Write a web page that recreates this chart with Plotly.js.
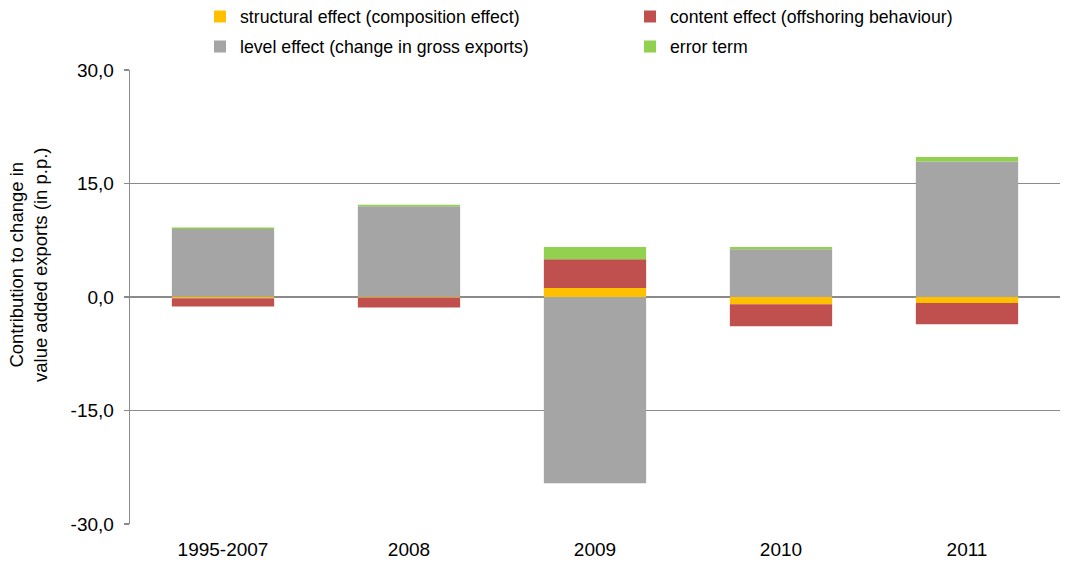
<!DOCTYPE html>
<html>
<head>
<meta charset="utf-8">
<script src="https://cdn.plot.ly/plotly-3.0.1.min.js"></script>
<style>html,body{margin:0;padding:0;background:#fff;}#chart{width:1065px;height:563px;}</style>
</head>
<body>
<div id="chart"></div>
<script>
var categories = ["1995-2007", "2008", "2009", "2010", "2011"];
var structuralEffect = [-0.15, -0.1, 1.2, -0.95, -0.8];
var contentEffect = [-1.1, -1.3, 3.8, -2.9, -2.8];
var levelEffect = [9.0, 12.0, -24.6, 6.3, 17.9];
var errorTerm = [0.2, 0.2, 1.6, 0.3, 0.6];
var seriesNames = ["structural effect (composition effect)", "content effect (offshoring behaviour)", "level effect (change in gross exports)", "error term"];
var seriesColors = ["#FFC000", "#C0504D", "#A5A5A5", "#92D050"];
var yTickVals = [-30, -15, 0, 15, 30];
var yTickText = ["-30,0", "-15,0", "0,0", "15,0", "30,0"];
var yTitle = "Contribution to change in<br>value added exports (in p.p.)";

var FONT = "Liberation Sans, Arial, sans-serif";
var seriesValues = [structuralEffect, contentEffect, levelEffect, errorTerm];
var legendIds = ["legend", "legend2", "legend3", "legend4"];
var traces = seriesValues.map(function (vals, i) {
  return {
    type: "bar",
    x: categories,
    y: vals,
    name: seriesNames[i],
    legend: legendIds[i],
    marker: { color: seriesColors[i], line: { width: 0 } },
    width: 0.55,
    hoverinfo: "x+y+name"
  };
});

var plotL = 130, plotW = 930, plotT = 70, plotH = 454;
function legendAt(px, py) {
  return {
    orientation: "v",
    x: (px - plotL) / plotW,
    xanchor: "left",
    y: 1 + (plotT - py) / plotH,
    yanchor: "middle",
    itemwidth: 30,
    font: { family: FONT, size: 17.7, color: "#000000" },
    bgcolor: "rgba(0,0,0,0)"
  };
}

var layout = {
  width: 1065,
  height: 563,
  barmode: "relative",
  margin: { l: plotL, r: 5, t: plotT, b: 39, autoexpand: false },
  paper_bgcolor: "#ffffff",
  plot_bgcolor: "#ffffff",
  font: { family: FONT, size: 17, color: "#000000" },
  showlegend: true,
  legend: legendAt(200, 17),
  legend2: legendAt(630, 17),
  legend3: legendAt(200, 47),
  legend4: legendAt(630, 47),
  xaxis: {
    type: "category",
    showline: false,
    showgrid: false,
    zeroline: false,
    ticks: "",
    ticklabelstandoff: 12,
    tickfont: { family: FONT, size: 19, color: "#000000" }
  },
  yaxis: {
    range: [-30, 30],
    tickvals: yTickVals,
    ticktext: yTickText,
    showgrid: true,
    gridcolor: "#8a8a8a",
    gridwidth: 1.3,
    zeroline: true,
    zerolinecolor: "#8a8a8a",
    zerolinewidth: 1.3,
    showline: true,
    linecolor: "#8a8a8a",
    linewidth: 1.3,
    ticks: "outside",
    ticklen: 5,
    tickcolor: "#8a8a8a",
    tickwidth: 1.3,
    ticklabelstandoff: 6,
    tickfont: { family: FONT, size: 19, color: "#000000" }
  },
  annotations: [{
    text: yTitle,
    xref: "paper",
    yref: "paper",
    x: (28 - plotL) / plotW,
    y: 1 - (265 - plotT) / plotH,
    xanchor: "center",
    yanchor: "middle",
    textangle: -90,
    showarrow: false,
    align: "center",
    font: { family: FONT, size: 18.5, color: "#000000" }
  }]
};

Plotly.newPlot("chart", traces, layout, { displayModeBar: false, staticPlot: true });
</script>
</body>
</html>
